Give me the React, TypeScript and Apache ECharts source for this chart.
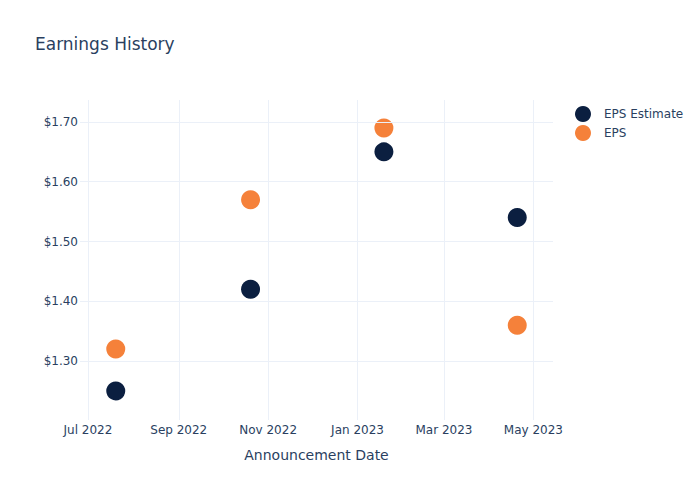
import React, { useEffect, useRef } from "react";
import * as echarts from "echarts";

const announcementDates = ["2022-07-20", "2022-10-20", "2023-01-19", "2023-04-20"];
const epsEstimate = [1.25, 1.42, 1.65, 1.54];
const epsActual = [1.32, 1.57, 1.69, 1.36];
const xTickDates = ["2022-07-01", "2022-09-01", "2022-11-01", "2023-01-01", "2023-03-01", "2023-05-01"];
const yTickValues = [1.3, 1.4, 1.5, 1.6, 1.7];
const monthNames = ["Jan", "Feb", "Mar", "Apr", "May", "Jun", "Jul", "Aug", "Sep", "Oct", "Nov", "Dec"];

const toTime = (s: string) => {
  const [y, m, d] = s.split("-").map(Number);
  return Date.UTC(y, m - 1, d);
};

const DAY = 86400000;

export default function App() {
  const ref = useRef<HTMLDivElement>(null);
  useEffect(() => {
    if (!ref.current) return;
    document.body.style.margin = "0";
    const chart = echarts.init(ref.current, undefined, { renderer: "svg" });
    const xs = announcementDates.map(toTime);
    const xTicks = xTickDates.map(toTime);
    const xMin = xs[0] - 24.4 * DAY;
    const xMax = xs[xs.length - 1] + 24.4 * DAY;
    const textColor = "#2a3f5f";
    const gridColor = "#EBF0F8";
    const font = "'DejaVu Sans', 'Open Sans', sans-serif";
    chart.setOption({
      animation: false,
      backgroundColor: "#ffffff",
      textStyle: { fontFamily: font },
      title: {
        text: "Earnings History",
        left: 35,
        top: 35,
        padding: 0,
        textStyle: { fontSize: 17, fontWeight: "normal", color: textColor, fontFamily: font },
      },
      legend: {
        data: ["EPS Estimate", "EPS"],
        orient: "vertical",
        left: 575,
        top: 106,
        padding: 0,
        itemWidth: 16,
        itemHeight: 16,
        itemGap: 3,
        icon: "circle",
        textStyle: { fontSize: 12, color: textColor, padding: [0, 0, 0, 8], fontFamily: font },
      },
      grid: { left: 80, right: 147, top: 100, bottom: 80, containLabel: false },
      xAxis: {
        type: "value",
        min: xMin,
        max: xMax,
        scale: true,
        name: "Announcement Date",
        nameLocation: "middle",
        nameGap: 28,
        nameTextStyle: { fontSize: 14, color: textColor, fontFamily: font },
        axisLine: { show: false },
        axisTick: { show: false, customValues: xTicks },
        splitLine: { show: false },
        axisLabel: {
          customValues: xTicks,
          color: textColor,
          fontSize: 12,
          margin: 4,
          hideOverlap: false,
          formatter: (v: number) => {
            const d = new Date(v);
            return monthNames[d.getUTCMonth()] + " " + d.getUTCFullYear();
          },
        },
      },
      yAxis: {
        type: "value",
        min: 1.2013,
        max: 1.7368,
        axisLine: { show: false },
        axisTick: { show: false, customValues: yTickValues },
        splitLine: { show: false },
        axisLabel: {
          customValues: yTickValues,
          color: textColor,
          fontSize: 12,
          margin: 2,
          formatter: (v: number) => "$" + v.toFixed(2),
        },
      },
      series: [
        {
          name: "grid",
          type: "scatter",
          data: [],
          z: 0,
          silent: true,
          markLine: {
            silent: true,
            symbol: "none",
            label: { show: false },
            lineStyle: { color: gridColor, width: 1, type: "solid" },
            data: [
              ...xTicks.map((t) => ({ xAxis: t })),
              ...yTickValues.map((v) => ({ yAxis: v })),
            ],
          },
        },
        {
          name: "EPS Estimate",
          type: "scatter",
          symbolSize: 19,
          z: 3,
          itemStyle: { color: "#0B1F40", opacity: 1 },
          data: xs.map((x, i) => [x, epsEstimate[i]]),
        },
        {
          name: "EPS",
          type: "scatter",
          symbolSize: 19,
          z: 4,
          itemStyle: { color: "#F5813A", opacity: 1 },
          data: xs.map((x, i) => [x, epsActual[i]]),
        },
      ],
    });
    return () => chart.dispose();
  }, []);
  return <div ref={ref} style={{ width: 700, height: 500 }} />;
}
